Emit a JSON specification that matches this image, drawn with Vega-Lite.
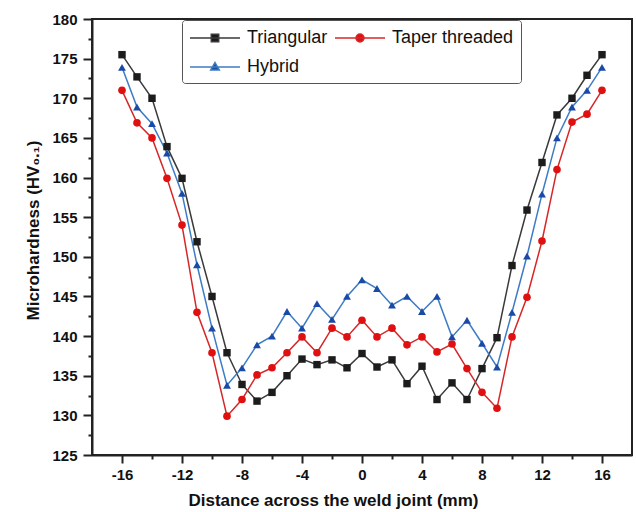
{
  "$schema": "https://vega.github.io/schema/vega-lite/v6.json",
  "width": 540,
  "height": 436,
  "autosize": {"type": "none"},
  "padding": {"left": 92, "top": 19, "right": 4, "bottom": 57},
  "background": "white",
  "config": {
    "view": {"stroke": "#222222", "strokeWidth": 2},
    "font": "Liberation Sans"
  },
  "data": {
    "values": [
      {"x": -16, "Triangular": 175.5, "Taper threaded": 171.0, "Hybrid": 173.9},
      {"x": -15, "Triangular": 172.7, "Taper threaded": 166.9, "Hybrid": 168.9},
      {"x": -14, "Triangular": 170.0, "Taper threaded": 165.0, "Hybrid": 166.8},
      {"x": -13, "Triangular": 163.9, "Taper threaded": 159.9, "Hybrid": 163.1},
      {"x": -12, "Triangular": 159.9, "Taper threaded": 154.0, "Hybrid": 158.0},
      {"x": -11, "Triangular": 151.9, "Taper threaded": 143.0, "Hybrid": 149.0},
      {"x": -10, "Triangular": 145.0, "Taper threaded": 137.9, "Hybrid": 141.0},
      {"x": -9, "Triangular": 137.9, "Taper threaded": 129.9, "Hybrid": 133.8},
      {"x": -8, "Triangular": 133.9, "Taper threaded": 132.0, "Hybrid": 136.0},
      {"x": -7, "Triangular": 131.8, "Taper threaded": 135.1, "Hybrid": 138.9},
      {"x": -6, "Triangular": 132.9, "Taper threaded": 136.0, "Hybrid": 140.0},
      {"x": -5, "Triangular": 135.0, "Taper threaded": 137.9, "Hybrid": 143.1},
      {"x": -4, "Triangular": 137.1, "Taper threaded": 139.9, "Hybrid": 141.0},
      {"x": -3, "Triangular": 136.4, "Taper threaded": 137.9, "Hybrid": 144.1},
      {"x": -2, "Triangular": 137.0, "Taper threaded": 141.0, "Hybrid": 142.1},
      {"x": -1, "Triangular": 136.0, "Taper threaded": 139.9, "Hybrid": 145.0},
      {"x": 0, "Triangular": 137.8, "Taper threaded": 142.0, "Hybrid": 147.1},
      {"x": 1, "Triangular": 136.1, "Taper threaded": 139.9, "Hybrid": 146.0},
      {"x": 2, "Triangular": 137.0, "Taper threaded": 141.0, "Hybrid": 143.9},
      {"x": 3, "Triangular": 134.0, "Taper threaded": 138.9, "Hybrid": 145.0},
      {"x": 4, "Triangular": 136.2, "Taper threaded": 139.9, "Hybrid": 143.1},
      {"x": 5, "Triangular": 132.0, "Taper threaded": 138.0, "Hybrid": 145.0},
      {"x": 6, "Triangular": 134.1, "Taper threaded": 139.0, "Hybrid": 139.9},
      {"x": 7, "Triangular": 132.0, "Taper threaded": 135.9, "Hybrid": 142.0},
      {"x": 8, "Triangular": 135.9, "Taper threaded": 132.9, "Hybrid": 139.1},
      {"x": 9, "Triangular": 139.8, "Taper threaded": 130.9, "Hybrid": 136.1},
      {"x": 10, "Triangular": 148.9, "Taper threaded": 139.9, "Hybrid": 143.0},
      {"x": 11, "Triangular": 155.9, "Taper threaded": 144.9, "Hybrid": 150.1},
      {"x": 12, "Triangular": 161.9, "Taper threaded": 152.0, "Hybrid": 157.9},
      {"x": 13, "Triangular": 167.9, "Taper threaded": 161.0, "Hybrid": 165.0},
      {"x": 14, "Triangular": 170.0, "Taper threaded": 167.0, "Hybrid": 168.9},
      {"x": 15, "Triangular": 172.9, "Taper threaded": 168.0, "Hybrid": 171.0},
      {"x": 16, "Triangular": 175.5, "Taper threaded": 171.0, "Hybrid": 173.9}
    ]
  },
  "transform": [
    {"fold": ["Triangular", "Taper threaded", "Hybrid"], "as": ["series", "hv"]}
  ],
  "encoding": {
    "x": {
      "field": "x",
      "type": "quantitative",
      "scale": {"domain": [-18, 18], "nice": false, "zero": false},
      "axis": {
        "values": [-16, -14, -12, -10, -8, -6, -4, -2, 0, 2, 4, 6, 8, 10, 12, 14, 16],
        "labelExpr": "datum.value % 4 === 0 ? (datum.value < 0 ? '-' : '') + abs(datum.value) : ''",
        "labelFont": "Liberation Sans",
        "labelFontWeight": "bold",
        "labelFontSize": 15,
        "labelColor": "#111111",
        "labelPadding": 4,
        "labelOverlap": false,
        "labelFlush": false,
        "tickSize": {"condition": {"test": "datum.value % 4 === 0", "value": 8}, "value": 4},
        "tickWidth": 2,
        "tickColor": "#222222",
        "domainColor": "#222222",
        "domainWidth": 2,
        "grid": false,
        "title": "Distance across the weld joint (mm)",
        "titleFont": "Liberation Sans",
        "titleFontWeight": "bold",
        "titleFontSize": 17,
        "titleColor": "#111111",
        "titleAlign": "center",
        "titleBaseline": "alphabetic",
        "titleX": 241,
        "titleY": 50
      }
    },
    "y": {
      "field": "hv",
      "type": "quantitative",
      "scale": {"domain": [125, 180], "nice": false, "zero": false},
      "axis": {
        "values": [125, 127.5, 130, 132.5, 135, 137.5, 140, 142.5, 145, 147.5, 150, 152.5, 155, 157.5, 160, 162.5, 165, 167.5, 170, 172.5, 175, 177.5, 180],
        "labelExpr": "datum.value % 5 === 0 ? '' + datum.value : ''",
        "labelFont": "Liberation Sans",
        "labelFontWeight": "bold",
        "labelFontSize": 15,
        "labelColor": "#111111",
        "labelPadding": 6,
        "labelOverlap": false,
        "labelFlush": false,
        "tickSize": {"condition": {"test": "datum.value % 5 === 0", "value": 9}, "value": 4},
        "tickWidth": 2,
        "tickColor": "#222222",
        "domainColor": "#222222",
        "domainWidth": 2,
        "grid": false,
        "title": "Microhardness (HV₀.₁)",
        "titleFont": "Liberation Sans",
        "titleFontWeight": "bold",
        "titleFontSize": 17,
        "titleColor": "#111111",
        "titleAngle": -90,
        "titleAlign": "center",
        "titleBaseline": "alphabetic",
        "titleX": -54,
        "titleY": 211
      }
    }
  },
  "layer": [
    {
      "mark": {"type": "line", "strokeWidth": 1.5},
      "encoding": {
        "stroke": {
          "field": "series",
          "type": "nominal",
          "scale": {"domain": ["Triangular", "Taper threaded", "Hybrid"], "range": ["#3a3a3a", "#d62728", "#3d7cc4"]},
          "legend": null
        }
      }
    },
    {
      "mark": {"type": "point", "filled": true, "opacity": 1},
      "encoding": {
        "shape": {
          "field": "series",
          "type": "nominal",
          "scale": {"domain": ["Triangular", "Taper threaded", "Hybrid"], "range": ["square", "circle", "triangle-up"]},
          "legend": null
        },
        "fill": {
          "field": "series",
          "type": "nominal",
          "scale": {"domain": ["Triangular", "Taper threaded", "Hybrid"], "range": ["#1c1c1c", "#e01010", "#1a4aa8"]},
          "legend": null
        },
        "size": {
          "field": "series",
          "type": "nominal",
          "scale": {"domain": ["Triangular", "Taper threaded", "Hybrid"], "range": [55, 62, 80]},
          "legend": null
        }
      }
    },
    {
      "mark": {"type": "point", "filled": true, "opacity": 0},
      "encoding": {
        "shape": {
          "field": "series",
          "type": "nominal",
          "scale": {
            "domain": ["Triangular", "Taper threaded", "Hybrid"],
            "range": [
              "M-1,0H4M1.13,-0.37H1.87V0.37H1.13Z",
              "M-1,0H4M1.9,0A0.4,0.4,0,1,1,1.1,0A0.4,0.4,0,1,1,1.9,0Z",
              "M-1,0H4M1.5,-0.45L1.93,0.3H1.07Z"
            ]
          },
          "legend": {
            "orient": "none", "legendX": 90, "legendY": 1, "direction": "horizontal", "columns": 2,
            "title": null, "symbolSize": 400, "symbolStrokeWidth": 1.5, "symbolOpacity": 1,
            "labelFont": "Liberation Sans", "labelFontSize": 18, "labelColor": "#111111",
            "labelOffset": 36, "columnPadding": 4, "rowPadding": 9, "padding": 7,
            "strokeColor": "#555555", "fillColor": "white", "cornerRadius": 3
          }
        },
        "fill": {
          "field": "series",
          "type": "nominal",
          "scale": {"domain": ["Triangular", "Taper threaded", "Hybrid"], "range": ["#1c1c1c", "#e01010", "#1a4aa8"]},
          "legend": {
            "orient": "none", "legendX": 90, "legendY": 1, "direction": "horizontal", "columns": 2,
            "title": null, "symbolSize": 400, "symbolStrokeWidth": 1.5, "symbolOpacity": 1,
            "labelFont": "Liberation Sans", "labelFontSize": 18, "labelColor": "#111111",
            "labelOffset": 36, "columnPadding": 4, "rowPadding": 9, "padding": 7,
            "strokeColor": "#555555", "fillColor": "white", "cornerRadius": 3
          }
        },
        "stroke": {
          "field": "series",
          "type": "nominal",
          "scale": {"domain": ["Triangular", "Taper threaded", "Hybrid"], "range": ["#3a3a3a", "#d62728", "#3d7cc4"]},
          "legend": {
            "orient": "none", "legendX": 90, "legendY": 1, "direction": "horizontal", "columns": 2,
            "title": null, "symbolSize": 400, "symbolStrokeWidth": 1.5, "symbolOpacity": 1,
            "labelFont": "Liberation Sans", "labelFontSize": 18, "labelColor": "#111111",
            "labelOffset": 36, "columnPadding": 4, "rowPadding": 9, "padding": 7,
            "strokeColor": "#555555", "fillColor": "white", "cornerRadius": 3
          }
        }
      }
    }
  ],
  "resolve": {"scale": {"shape": "independent", "fill": "independent", "stroke": "independent", "size": "independent"}}
}
